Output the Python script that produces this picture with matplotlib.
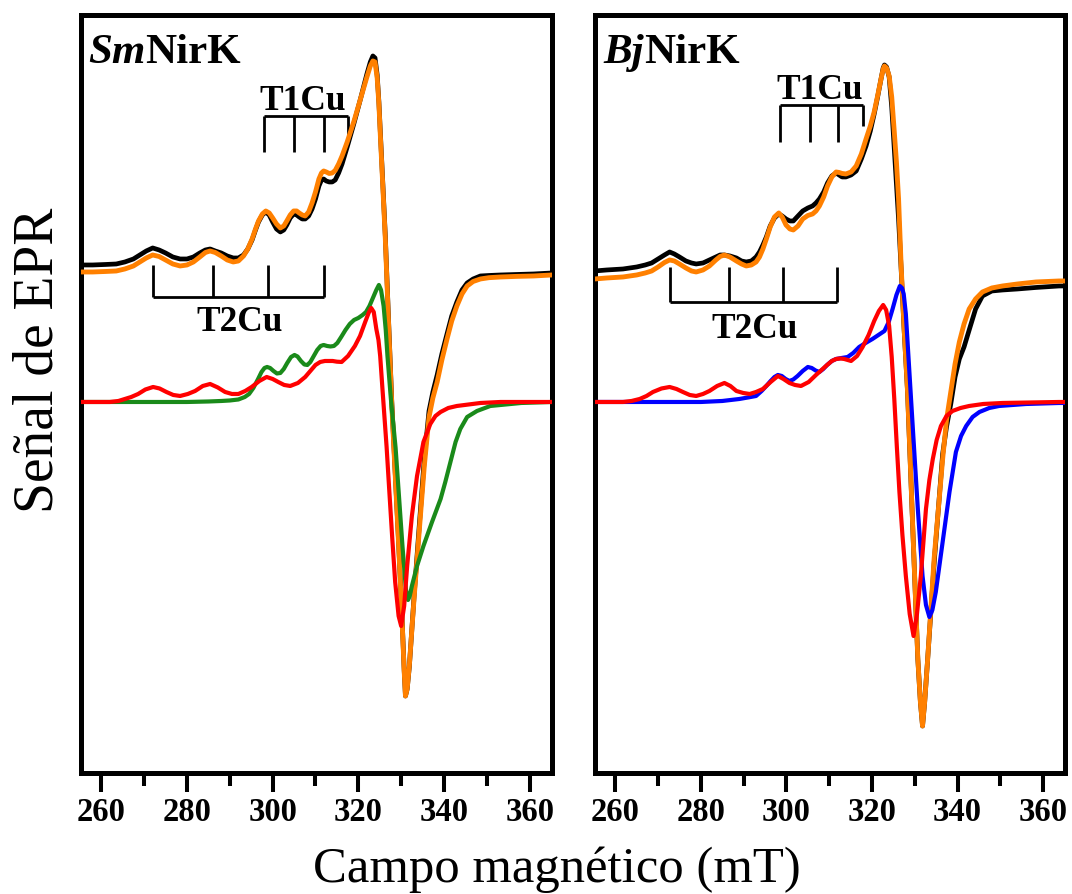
import matplotlib
matplotlib.use("Agg")
import matplotlib.pyplot as plt
from matplotlib.ticker import MultipleLocator

plt.rcParams['font.family'] = ['Liberation Serif', 'DejaVu Serif']

# ---------------- data (field in mT, signal in arbitrary units) ----------------
# SmNirK panel: experimental spectrum and total simulation share one field grid
sm_B = [255.2, 258, 261, 263.5, 265.5, 267.5, 269, 270.5, 272, 273.5, 275, 276.7, 278.4, 280,
        281.5, 283, 284.3, 285.4, 286.6, 288, 289.4, 290.8, 292, 293.2, 294.2, 295.2, 296,
        296.7, 297.6, 298.4, 299.2, 300, 300.9, 301.8, 302.6, 303.3, 304.1, 304.9, 305.6,
        306.2, 306.9, 307.6, 308.4, 309.2, 310, 310.8, 311.4, 311.9, 312.5, 313.2, 313.9,
        314.6, 315.4, 316.2, 317.4, 319, 320.5, 322, 322.8, 323.4, 323.9, 324.4, 324.8, 325.1,
        325.7, 326.3, 327.0, 327.8, 328.6, 329.4, 330.2, 330.7, 331.0, 331.4, 331.9, 333.0,
        334.2, 335.4, 336.5, 337.4, 338.4, 339.5, 340.7, 341.8, 343.0, 344.2, 345.4, 346.8,
        348.5, 350.5, 353.2, 357, 360.9, 365.2]
sm_fit = [130, 130, 130.5, 131, 133, 136, 140, 144, 147, 145.5, 142, 138, 136, 137,
          140, 145, 149.5, 151, 149.5, 146, 142, 140, 141, 146, 153, 163, 173,
          181, 188, 191, 189, 184, 178, 174, 176, 181, 187, 191, 191,
          189, 187, 186, 190, 199, 210, 223, 229, 231, 230, 228.5, 229,
          231.5, 238, 246, 260, 281, 303, 325, 336, 341, 340, 324, 298, 270,
          217, 163, 85, -2, -72, -142, -217, -269, -294, -287, -264, -197,
          -130, -64, -15, 4, 20, 42, 63, 81, 96, 108, 116, 120.5,
          123, 124.3, 125, 125.6, 126, 127]
sm_exp = [137, 137, 137.5, 138, 140, 143, 147, 151, 154, 152, 149, 145, 143, 143,
          145, 149, 152, 153, 151, 149, 146, 144, 144, 147, 153, 162, 172,
          180, 187, 190, 187, 180, 173, 170, 172, 177, 184, 188, 187,
          185, 183, 183, 186, 193, 203, 216, 222, 223, 221, 220, 220,
          222, 229, 238, 255, 279, 303, 328, 340, 346, 344, 327, 300, 273,
          220, 166, 88, 1, -70, -140, -215, -268, -294, -287, -265, -195,
          -125, -57, -9, 10, 27, 48, 68, 86, 100, 112, 119, 123,
          126, 126.5, 127, 127.5, 128, 129]

sm_t1_B = [255.2, 280, 285, 288, 290, 292, 293.5, 294.5, 295.5, 296.6, 297.4, 298.1, 298.7, 299.4,
           300.2, 301, 301.8, 302.6, 303.4, 304.3, 305.1, 305.8, 306.6, 307.4, 308.1, 308.8,
           309.6, 310.4, 311.2, 311.9, 312.7, 313.5, 314.3, 315.1, 316, 317, 318, 319, 320, 321,
           321.8, 322.6, 323.5, 324.2, 324.8, 325.3, 325.9, 326.4, 326.8, 327.6, 328.7, 329.5,
           330.3, 331.1, 331.6, 332.0, 332.5, 333.7, 335.2, 337.2, 339.2, 340.3, 341.5, 342.7,
           343.8, 345.4, 347.7, 350.8, 353.2, 358, 365.2]
sm_t1 = [0, 0, 0.5, 1, 1.5, 2.5, 5, 8, 14, 23, 30, 34, 35, 34,
         31, 28.5, 29, 33, 39, 45, 47, 45.5, 41, 37.5, 37, 40,
         46, 52, 56, 57, 56, 55.5, 56, 59, 65, 72, 78, 82, 84, 87,
         90, 96, 105, 112, 117, 112, 96, 72, 46, 3, -46, -95,
         -144, -187, -198, -194, -184, -164, -144, -120, -97, -80, -60, -40,
         -27, -15, -9, -4, -3, -1, 0]

sm_t2_B = [255.2, 262, 264, 265.5, 267, 268.6, 270.3, 272.1, 273.6, 275.2, 276.8, 278.4, 280.2,
           281.9, 283.7, 285.4, 287.2, 288.9, 290.5, 292, 293.6, 295.1, 296.9, 298.6, 300,
           301.3, 302.7, 304.1, 305.9, 307.6, 308.8, 310, 311.1, 312.2, 313.1, 314, 315, 316.1,
           317.6, 319.2, 320.4, 321.6, 322.4, 323.0, 323.6, 324.2, 324.7, 325.1, 325.6, 326.1,
           326.6, 327.1, 327.9, 328.6, 329.4, 330.0, 330.7, 331.4, 332.5, 333.7, 335.2, 336.8,
           338, 339.2, 341, 343.0, 348.5, 353.2, 365.2]
sm_t2 = [0, 0, 1, 3, 5, 8, 12.5, 15, 13.5, 10, 7, 6, 8,
         11, 16, 18, 14.5, 10, 8, 8, 11, 15, 21, 25, 23,
         20, 17, 16, 19, 25, 31, 37, 40, 41, 41, 41, 40.3, 40,
         46, 56, 66, 80, 89, 94, 90, 73, 62, 46, 15, -15,
         -45, -80, -135, -180, -214, -224, -204, -164, -114, -74, -40, -22,
         -14, -10, -6, -4, -1, 0, 0]

# BjNirK panel: experimental spectrum and total simulation share one field grid
bj_B = [255.2, 258, 261.8, 265, 267, 268.5, 270, 271.5, 272.7, 273.8, 275.0, 276.5, 277.8, 278.9,
        280.5, 282.0, 283.5, 284.5, 285.5, 286.8, 288.3, 289.5, 290.6, 291.8, 292.9, 293.7,
        294.5, 295.3, 296.2, 297.2, 298.2, 299.0, 299.9, 300.8, 301.6, 302.7, 303.8, 305,
        306.1, 306.9, 307.7, 308.7, 309.6, 310.6, 311.6, 312.3, 313.0, 313.9, 315.1, 316.3,
        317.5, 318.6, 319.6, 320.5, 321.3, 322.1, 322.6, 322.9, 323.4, 324.0, 324.6, 325.2,
        325.7, 326.2, 326.8, 327.5, 328.3, 329.5, 330.7, 331.3, 331.8, 332.3, 333.0, 334.5,
        336.5, 337.4, 338.4, 339.4, 340.4, 341.5, 342.7, 344.2, 345.8, 348, 350.5, 354,
        358.3, 363.7, 365.1]
bj_fit = [123, 124, 125, 127, 129, 131, 135, 139.5, 142, 141, 138, 134, 131, 130,
          132, 136, 142, 145.5, 147, 145, 141, 138, 136, 137, 140, 145,
          153, 163, 175, 185, 189, 185, 177, 173, 172, 176, 183, 186.5,
          188, 191, 196, 205, 216, 225, 230, 229.5, 228.5, 228, 230, 236,
          248, 263, 276, 290, 306, 323, 333, 336, 334, 326, 305, 270,
          240, 203, 136, 73, 10, -124, -257, -300, -324, -300, -257, -157,
          -57, -18, 10, 38, 60, 78, 93, 103, 110, 114, 116, 118,
          120, 121, 121]
bj_exp = [131, 132, 133, 135, 137, 139, 143, 147, 150, 148, 145, 141, 139, 138,
          139, 142, 145, 147, 147, 146, 144, 141, 140, 141, 145, 150,
          157, 165, 176, 184, 188, 186, 183, 181, 181, 186, 191, 194,
          196, 199, 203, 210, 219, 226, 229, 227, 225, 225, 227, 231,
          243, 256, 271, 288, 305, 323, 334, 337, 335, 325, 295, 253,
          218, 183, 133, 72, 10, -124, -257, -300, -324, -300, -257, -162,
          -52, -25, -2, 25, 43, 55, 72, 93, 106, 111, 112, 113,
          114.5, 116, 116]

bj_t1_B = [255.2, 280, 285, 289.0, 291, 292.9, 294.2, 295.3, 296.3, 297.2, 298.0, 298.9, 299.8,
           300.7, 301.6, 302.6, 303.8, 305.0, 305.9, 306.8, 307.7, 308.6, 309.5, 310.6, 311.6,
           312.9, 314.3, 315.6, 317.0, 318.5, 320.1, 321.5, 322.9, 323.9, 324.8, 325.7, 326.5,
           327.0, 327.4, 327.9, 328.3, 329.5, 330.7, 331.8, 332.6, 333.4, 334.1, 334.9, 336.5,
           338.1, 339.6, 340.8, 342.0, 343.5, 345.1, 347.4, 349.7, 356, 363.7, 365.1]
bj_t1 = [0, 0, 1, 3, 4.5, 6, 11, 16, 21, 25, 27, 26, 23,
         21, 22.5, 26, 31, 35, 34, 31.5, 30, 33, 37, 41, 43,
         44, 45, 49, 55, 59, 63, 67, 71, 80, 93, 107, 116,
         114, 108, 88, 60, -24, -107, -174, -203, -215, -208, -190, -140,
         -90, -50, -34, -24, -15, -10, -6, -4, -2, -1, -1]

bj_t2_B = [255.2, 261.8, 263.8, 265.7, 267.3, 268.8, 270.8, 272.7, 274.3, 275.8, 277.4, 278.9, 280.5,
           282.0, 283.8, 285.5, 286.9, 288.3, 289.9, 291.4, 292.9, 294.5, 296.3, 298.0, 299.3,
           300.7, 302, 303.4, 305.2, 306.9, 308.2, 309.5, 310.6, 311.6, 312.6, 313.5, 315.1,
           316.5, 317.8, 319.2, 320.5, 321.6, 322.6, 323.3, 324.0, 324.6, 325.2, 325.8, 326.4,
           327.1, 327.9, 328.8, 329.7, 330.5, 331.4, 332.6, 333.4, 334.2, 335.1, 336.1, 337.4,
           338.8, 340.7, 342.7, 346, 350.5, 363.7, 365.1]
bj_t2 = [0, 0, 1, 3, 6, 10, 13.5, 15, 13, 10, 7, 6, 8,
         11, 16, 19, 16, 11, 9, 8, 10, 13, 20, 26, 23,
         19, 17, 16, 20, 27, 32, 37, 41, 43, 43.5, 43, 41,
         46, 55, 67, 81, 91, 97, 92, 76, 45, 3, -45, -90,
         -133, -174, -212, -234, -212, -174, -107, -78, -57, -38, -24, -14,
         -9, -6, -4, -2, -1, 0, 0]

# hyperfine stick markers (mT)
sm_T1_pos = [297.9, 304.9, 311.9, 317.7]
sm_T2_pos = [272.1, 286.0, 298.9, 311.9]
bj_T1_pos = [298.5, 305.4, 312.1, 318.0]
bj_T2_pos = [272.7, 286.5, 299.3, 311.7]

xticks = [260, 280, 300, 320, 340, 360]

C_ORANGE = '#FF8000'
C_GREEN = '#1A8A1A'
C_RED = '#FF0000'
C_BLUE = '#0000FF'

fig = plt.figure(figsize=(10.72, 8.95), dpi=100)
axL = fig.add_axes([0.0753, 0.1352, 0.4392, 0.8473])
axR = fig.add_axes([0.5548, 0.1352, 0.4387, 0.8473])

XLIM = (255.2, 365.1)
YLIM = (-371, 387.3)


def style(ax):
    ax.set_xlim(*XLIM)
    ax.set_ylim(*YLIM)
    ax.set_yticks([])
    ax.set_xticks(xticks)
    ax.xaxis.set_minor_locator(MultipleLocator(10))
    ax.tick_params(axis='x', which='major', direction='out', length=13.5, width=2.9,
                   labelsize=23.5, pad=3.0)
    ax.tick_params(axis='x', which='minor', direction='out', length=9, width=2.9)
    for lab in ax.get_xticklabels():
        lab.set_fontweight('bold')
    for sp in ax.spines.values():
        sp.set_linewidth(3.6)


def markers(ax, t1pos, t1_bar, t1_low, t1_last_low, t2pos, t2_bar, t2_top, t1xy, t2xy):
    lw = 2.0
    ax.plot([t1pos[0], t1pos[-1]], [t1_bar, t1_bar], color='k', lw=lw, solid_capstyle='butt')
    for i, p in enumerate(t1pos):
        low = t1_last_low if i == len(t1pos) - 1 else t1_low
        ax.plot([p, p], [t1_bar, low], color='k', lw=lw, solid_capstyle='butt')
    ax.plot([t2pos[0], t2pos[-1]], [t2_bar, t2_bar], color='k', lw=lw, solid_capstyle='butt')
    for p in t2pos:
        ax.plot([p, p], [t2_bar, t2_top], color='k', lw=lw, solid_capstyle='butt')
    ax.text(t1xy[0], t1xy[1], 'T1Cu', fontsize=25.5, fontweight='bold', ha='center', va='baseline')
    ax.text(t2xy[0], t2xy[1], 'T2Cu', fontsize=25.5, fontweight='bold', ha='center', va='baseline')


for ax in (axL, axR):
    style(ax)

# Left panel curves
axL.plot(sm_B, sm_exp, color='k', lw=3.4, zorder=2)
axL.plot(sm_B, sm_fit, color=C_ORANGE, lw=3.5, zorder=3)
axL.plot(sm_t1_B, sm_t1, color=C_GREEN, lw=3.0, zorder=3)
axL.plot(sm_t2_B, sm_t2, color=C_RED, lw=3.0, zorder=4)
markers(axL, sm_T1_pos, 286.3, 249.7, 266.3, sm_T2_pos, 104.7, 137, (307.0, 293), (292.2, 72.3))

# Right panel curves
axR.plot(bj_B, bj_exp, color='k', lw=3.4, zorder=2)
axR.plot(bj_B, bj_fit, color=C_ORANGE, lw=3.5, zorder=3)
axR.plot(bj_t1_B, bj_t1, color=C_BLUE, lw=3.0, zorder=3)
axR.plot(bj_t2_B, bj_t2, color=C_RED, lw=3.0, zorder=4)
markers(axR, bj_T1_pos, 297, 260.3, 276.3, bj_T2_pos, 99.7, 134.7, (307.8, 304), (292.6, 64.7))

# panel titles: italic organism abbreviation + bold NirK
fig.canvas.draw()
renderer = fig.canvas.get_renderer()
for ax, abbr, x0 in ((axL, 'Sm', 0.0155), (axR, 'Bj', 0.0183)):
    t = ax.text(x0, 0.9372, abbr, transform=ax.transAxes, fontsize=31, fontweight='bold',
                fontstyle='italic', ha='left', va='baseline')
    bb = t.get_window_extent(renderer=renderer)
    xa = ax.transAxes.inverted().transform((bb.x1, bb.y0))[0]
    ax.text(xa, 0.9372, 'NirK', transform=ax.transAxes, fontsize=31, fontweight='bold',
            ha='left', va='baseline')

fig.text(0.5193, 0.0145, 'Campo magnético (mT)', fontsize=36.5, ha='center', va='baseline')
fig.text(0.036, 0.597, 'Señal de EPR', fontsize=40, rotation=90, ha='center', va='center')

fig.savefig('out.png', dpi=100)
